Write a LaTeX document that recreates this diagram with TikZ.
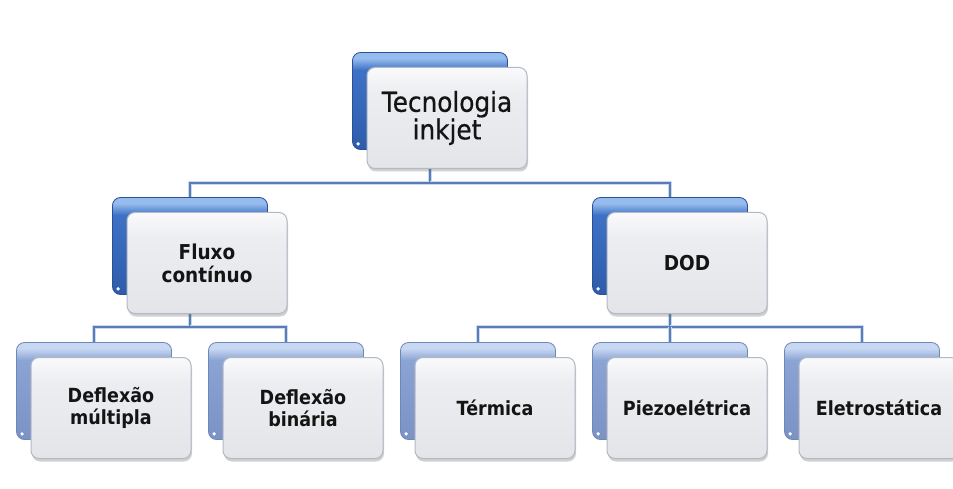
\documentclass[tikz,border=0pt]{standalone}
\usepackage{fontspec}
\setmainfont[FakeStretch=0.9]{DejaVu Sans}
\usetikzlibrary{shadows,calc}

% palette
\definecolor{busline}{RGB}{88,124,182}
\definecolor{bushalo}{RGB}{205,218,238}
\definecolor{deepdark}{RGB}{46,92,170}
\definecolor{deepmain}{RGB}{62,114,198}
\definecolor{deeplight}{RGB}{150,188,238}
\definecolor{deepedge}{RGB}{40,80,150}
\definecolor{litedark}{RGB}{122,146,196}
\definecolor{litemain}{RGB}{140,164,212}
\definecolor{litelight}{RGB}{200,216,242}
\definecolor{liteedge}{RGB}{110,134,184}
\definecolor{ftop}{RGB}{250,250,252}
\definecolor{fmid}{RGB}{236,237,240}
\definecolor{fbot}{RGB}{228,229,233}
\definecolor{frontedge}{RGB}{178,184,196}
\definecolor{textcol}{RGB}{20,20,20}

\pgfdeclareverticalshading{deepback}{100bp}{color(0bp)=(deepdark); color(25bp)=(deepdark); color(66bp)=(deepmain); color(72bp)=(deeplight); color(75bp)=(deeplight); color(100bp)=(deeplight)}
\pgfdeclareverticalshading{liteback}{100bp}{color(0bp)=(litedark); color(25bp)=(litedark); color(66bp)=(litemain); color(72bp)=(litelight); color(75bp)=(litelight); color(100bp)=(litelight)}
\pgfdeclareverticalshading{frontfill}{100bp}{color(0bp)=(fbot); color(25bp)=(fbot); color(62bp)=(fmid); color(75bp)=(ftop); color(100bp)=(ftop)}

\tikzset{
  backbox/.style={rounded corners=8pt, minimum width=155pt, minimum height=97pt,
    inner sep=0pt, draw=deepedge, line width=0.8pt, shading=deepback},
  backlite/.style={backbox, draw=liteedge, shading=liteback},
  frontbox/.style={rounded corners=8pt, minimum width=160pt, minimum height=101pt,
    inner sep=0pt, draw=frontedge, line width=1pt, shading=frontfill, align=center,
    text=textcol,
    drop shadow={shadow xshift=1pt, shadow yshift=-3pt, opacity=0.3, fill=black!60}},
  toptext/.style={font=\addfontfeature{FakeBold=0.6}\fontsize{27.5}{23}\selectfont},
  midtext/.style={font=\bfseries\fontsize{20.5}{23}\selectfont},
  lowtext/.style={font=\bfseries\fontsize{19.5}{22}\selectfont},
  bus/.style={draw=busline, line width=2.2pt,
    preaction={draw=bushalo, line width=4.5pt}},
  glint/.style={fill=white, draw=none}
}

\begin{document}
\begin{tikzpicture}[x=1pt, y=-1pt]
  \useasboundingbox[fill=white] (0,0) rectangle (953,489);

  % back plates
  \node[backbox]  (tB) at (430,101) {};
  \node[backbox]  (fB) at (190,246) {};
  \node[backbox]  (dB) at (670,246) {};
  \node[backlite] (mB) at (94,391)  {};
  \node[backlite] (bB) at (286,391) {};
  \node[backlite] (rB) at (478,391) {};
  \node[backlite] (pB) at (670,391) {};
  \node[backlite] (eB) at (862,391) {};

  % small glints in the lower left corner of each plate
  \foreach \n in {tB,fB,dB,mB,bB,rB,pB,eB}
    \fill[glint] ($(\n.south west)+(6,-6)$) circle (1.8pt);

  % bus lines
  \coordinate (bus1) at (0,183);
  \coordinate (bus2) at (0,327);
  \draw[bus] (tB.south) -- (tB.south |- bus1) -| (fB.north);
  \draw[bus] (tB.south |- bus1) -| (dB.north);
  \draw[bus] (fB.south) -- (fB.south |- bus2) -| (mB.north);
  \draw[bus] (fB.south |- bus2) -| (bB.north);
  \draw[bus] (dB.south) -- (dB.south |- bus2) -| (rB.north);
  \draw[bus] (dB.south |- bus2) -| (eB.north);
  \draw[bus] (dB.south |- bus2) -- (pB.north);

  % front cards
  \node[frontbox, toptext] (tF) at (447,118) {Tecnologia\\inkjet};
  \node[frontbox, midtext] (fF) at (207,263) {Fluxo\\contínuo};
  \node[frontbox, midtext] (dF) at (687,263) {DOD};
  \node[frontbox, lowtext] (mF) at (111,408) {Deflexão\\múltipla};
  \node[frontbox, lowtext] (bF) at (303,408) {Deflexão\\binária};
  \node[frontbox, lowtext] (rF) at (495,408) {Térmica};
  \node[frontbox, lowtext] (pF) at (687,408) {Piezoelétrica};
  \node[frontbox, lowtext] (eF) at (879,408) {Eletrostática};
\end{tikzpicture}
\end{document}
